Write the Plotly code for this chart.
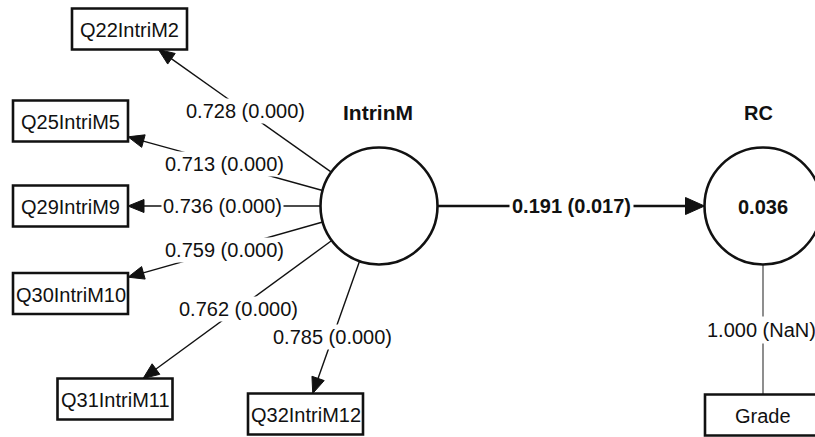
import math
import plotly.graph_objects as go

# ---------------- data ----------------
indicators = ["Q22IntriM2", "Q25IntriM5", "Q29IntriM9", "Q30IntriM10", "Q31IntriM11", "Q32IntriM12"]
loadings = [0.728, 0.713, 0.736, 0.759, 0.762, 0.785]
loading_p = [0.000, 0.000, 0.000, 0.000, 0.000, 0.000]
latent_names = ["IntrinM", "RC"]
rc_r2 = 0.036
path_coef = 0.191
path_p = 0.017
grade_name = "Grade"
grade_loading = 1.000
grade_p = "NaN"

# ---------------- layout (pixel space of the window) ----------------
W, H = 815, 437
ind_centers = [(129.5, 29), (70.5, 121), (70.5, 206), (70.5, 293.5), (115, 399), (305.5, 414)]
label_t = [0.536, 0.50, 0.506, 0.50, 0.534, 0.63]
box_w, box_h = 115, 41
intr_c = (379, 206)
rc_c = (763, 206)
radius = 58.5
grade_c = (762.5, 415)
FONT = "Liberation Sans, Arial, sans-serif"
INK = "#111111"

shapes = []
annotations = []


def box_exit_t(p0, p1, hw, hh):
    dx, dy = p1[0] - p0[0], p1[1] - p0[1]
    ts = []
    if abs(dx) > 1e-9:
        ts.append(1 - hw / abs(dx))
    if abs(dy) > 1e-9:
        ts.append(1 - hh / abs(dy))
    return max(ts)


def arrowhead(tip, direction, length, half):
    ux, uy = direction
    bx, by = tip[0] - ux * length, tip[1] - uy * length
    px, py = -uy, ux
    return (f"M {tip[0]},{tip[1]} L {bx + px * half},{by + py * half} "
            f"L {bx - px * half},{by - py * half} Z")


def add_box(c, text):
    shapes.append(dict(type="rect", xref="x", yref="y",
                       x0=c[0] - box_w / 2, x1=c[0] + box_w / 2,
                       y0=c[1] - box_h / 2, y1=c[1] + box_h / 2,
                       line=dict(color=INK, width=2.6), fillcolor="white", layer="above"))
    annotations.append(dict(x=c[0], y=c[1] + 1, xref="x", yref="y", text=text, showarrow=False,
                            font=dict(family=FONT, size=20, color=INK)))


# indicator arrows
for name, lo, p, c, t_lab in zip(indicators, loadings, loading_p, ind_centers, label_t):
    dx, dy = c[0] - intr_c[0], c[1] - intr_c[1]
    L = math.hypot(dx, dy)
    ux, uy = dx / L, dy / L
    start = (intr_c[0] + ux * radius, intr_c[1] + uy * radius)
    te = box_exit_t(intr_c, c, box_w / 2, box_h / 2)
    tip = (intr_c[0] + dx * te, intr_c[1] + dy * te)
    base = (tip[0] - ux * 14, tip[1] - uy * 14)
    shapes.append(dict(type="line", xref="x", yref="y", x0=start[0], y0=start[1],
                       x1=base[0], y1=base[1], line=dict(color=INK, width=1.4)))
    shapes.append(dict(type="path", xref="x", yref="y", path=arrowhead(tip, (ux, uy), 16, 6.5),
                       fillcolor=INK, line=dict(color=INK, width=1)))
    lx, ly = intr_c[0] + dx * t_lab, intr_c[1] + dy * t_lab
    annotations.append(dict(x=lx, y=ly, xref="x", yref="y", text=f"{lo:.3f} ({p:.3f})",
                            showarrow=False, bgcolor="white", borderpad=1,
                            font=dict(family=FONT, size=20, color=INK)))
    add_box(c, name)

# structural path IntrinM -> RC
s = (intr_c[0] + radius, intr_c[1])
tip = (rc_c[0] - radius, rc_c[1])
shapes.append(dict(type="line", xref="x", yref="y", x0=s[0], y0=s[1], x1=tip[0] - 16, y1=tip[1],
                   line=dict(color=INK, width=2.6)))
shapes.append(dict(type="path", xref="x", yref="y", path=arrowhead(tip, (1, 0), 19, 8.5),
                   fillcolor=INK, line=dict(color=INK, width=1)))
annotations.append(dict(x=(s[0] + tip[0]) / 2, y=s[1], xref="x", yref="y",
                        text=f"<b>{path_coef:.3f} ({path_p:.3f})</b>", showarrow=False,
                        bgcolor="white", borderpad=2, font=dict(family=FONT, size=20, color=INK)))

# RC -> Grade (single indicator)
g_top = grade_c[1] - box_h / 2
shapes.append(dict(type="line", xref="x", yref="y", x0=rc_c[0], y0=rc_c[1] + radius,
                   x1=rc_c[0], y1=g_top, line=dict(color="#444444", width=1.2)))
annotations.append(dict(x=rc_c[0] - 2, y=(rc_c[1] + radius + g_top) / 2, xref="x", yref="y",
                        text=f"{grade_loading:.3f} ({grade_p})", showarrow=False,
                        bgcolor="white", borderpad=2, font=dict(family=FONT, size=20, color=INK)))
add_box(grade_c, grade_name)

# latent circles
for c in (intr_c, rc_c):
    shapes.append(dict(type="circle", xref="x", yref="y",
                       x0=c[0] - radius, x1=c[0] + radius, y0=c[1] - radius, y1=c[1] + radius,
                       line=dict(color=INK, width=2.6), fillcolor="white", layer="above"))

annotations.append(dict(x=intr_c[0] - 1, y=intr_c[1] - 94, xref="x", yref="y",
                        text=f"<b>{latent_names[0]}</b>", showarrow=False,
                        font=dict(family=FONT, size=21, color=INK)))
annotations.append(dict(x=rc_c[0] - 5, y=rc_c[1] - 93, xref="x", yref="y",
                        text=f"<b>{latent_names[1]}</b>", showarrow=False,
                        font=dict(family=FONT, size=20, color=INK)))
annotations.append(dict(x=rc_c[0], y=rc_c[1] + 1, xref="x", yref="y",
                        text=f"<b>{rc_r2:.3f}</b>", showarrow=False,
                        font=dict(family=FONT, size=20, color=INK)))

fig = go.Figure()
fig.add_trace(go.Scatter(x=[intr_c[0], rc_c[0]], y=[intr_c[1], rc_c[1]], mode="markers",
                         marker=dict(opacity=0), hoverinfo="skip", showlegend=False))
fig.update_layout(width=W, height=H, margin=dict(l=0, r=0, t=0, b=0),
                  paper_bgcolor="white", plot_bgcolor="white",
                  xaxis=dict(range=[0, W], visible=False, fixedrange=True),
                  yaxis=dict(range=[H, 0], visible=False, fixedrange=True),
                  shapes=shapes, annotations=annotations, showlegend=False)
fig.write_html("out.html", config={"displayModeBar": False},
               post_script="document.body.style.margin='0px';document.body.style.overflow='hidden';")
